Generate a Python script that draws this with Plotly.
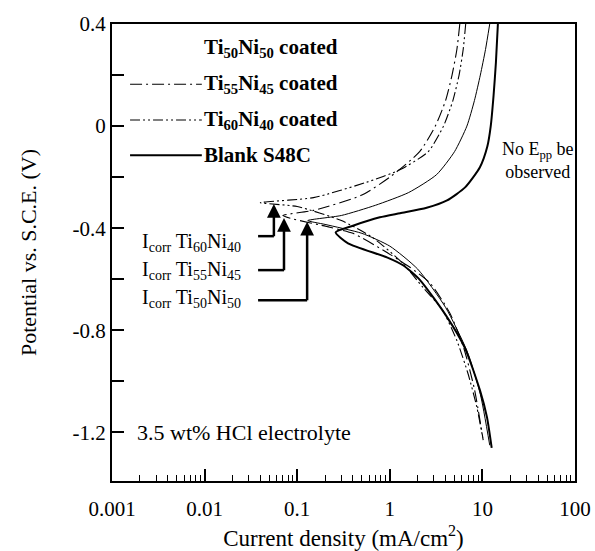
import math
import plotly.graph_objects as go

# ---------------- data ----------------
# Ti60Ni40 coated (dash-dot-dot)
ti60_I = [6.6, 6.2, 5.6, 4.8, 3.8, 2.6, 1.3, 0.56, 0.15, 0.04, 0.1, 0.3, 0.65, 1.38, 2.26, 3.7, 5.3, 7.0, 8.7, 10.2]
ti60_E = [0.40, 0.30, 0.20, 0.10, 0.00, -0.10, -0.17, -0.22, -0.28, -0.30, -0.315, -0.37, -0.436, -0.537, -0.63, -0.72, -0.84, -0.97, -1.10, -1.23]

# Ti55Ni45 coated (dash-dot)
ti55_I = [5.7, 5.3, 4.7, 4.0, 3.1, 2.1, 1.0, 0.5, 0.15, 0.07, 0.084, 0.225, 0.40, 0.85, 1.65, 2.72, 4.46, 6.3, 8.2, 10.1]
ti55_E = [0.40, 0.30, 0.20, 0.10, 0.00, -0.10, -0.20, -0.27, -0.33, -0.35, -0.361, -0.396, -0.42, -0.486, -0.553, -0.615, -0.733, -0.87, -1.03, -1.22]

# Ti50Ni50 coated (thin solid)
ti50_I = [12.0, 10.8, 9.5, 8.2, 6.8, 5.0, 3.2, 1.6, 0.7, 0.3, 0.13, 0.2, 0.5, 1.0, 2.0, 4.0, 6.8, 9.5, 12.0]
ti50_E = [0.40, 0.30, 0.20, 0.10, 0.00, -0.10, -0.19, -0.26, -0.31, -0.35, -0.37, -0.385, -0.42, -0.47, -0.56, -0.71, -0.88, -1.05, -1.25]

# Blank S48C (thick solid)
blank_I = [14.7, 14.0, 13.2, 12.3, 11.3, 9.4, 6.5, 4.15, 2.5, 1.29, 0.78, 0.4, 0.26, 0.354, 0.93, 1.39, 2.12, 4.15, 6.5, 9.4, 11.2, 12.6]
blank_E = [0.40, 0.25, 0.12, 0.00, -0.08, -0.161, -0.24, -0.291, -0.32, -0.341, -0.357, -0.39, -0.416, -0.459, -0.514, -0.545, -0.603, -0.748, -0.87, -1.034, -1.14, -1.26]

series_names = ["Ti<sub>50</sub>Ni<sub>50</sub> coated", "Ti<sub>55</sub>Ni<sub>45</sub> coated",
                "Ti<sub>60</sub>Ni<sub>40</sub> coated", "Blank S48C"]

x_tickvals = [0.001, 0.01, 0.1, 1, 10, 100]
x_ticktext = ["0.001", "0.01", "0.1", "1", "10", "100"]
x_minor = [m * 10.0 ** d for d in range(-3, 2) for m in range(2, 10)]
y_tickvals = [0.4, 0.2, 0.0, -0.2, -0.4, -0.6, -0.8, -1.0, -1.2]
y_ticktext = ["0.4", "", "0", "", "-0.4", "", "-0.8", "", "-1.2"]

# I_corr pointers: arrow x (mA/cm2), tip E, elbow E
icorr_labels = ["I<sub>corr</sub> Ti<sub>60</sub>Ni<sub>40</sub>",
                "I<sub>corr</sub> Ti<sub>55</sub>Ni<sub>45</sub>",
                "I<sub>corr</sub> Ti<sub>50</sub>Ni<sub>50</sub>"]
icorr_x = [0.056, 0.072, 0.128]
icorr_tip = [-0.305, -0.36, -0.375]
icorr_elbow = [-0.431, -0.564, -0.682]
icorr_start = 0.0378
icorr_text_E = [-0.455, -0.564, -0.674]

FONT = "Liberation Serif, Times New Roman, serif"
BLACK = "black"

fig = go.Figure()

styles = [
    dict(color=BLACK, width=1.0, dash="solid"),
    dict(color=BLACK, width=1.1, dash="12px,4px,2px,4px"),
    dict(color=BLACK, width=1.1, dash="10px,3px,2px,3px,2px,3px"),
    dict(color=BLACK, width=2.0, dash="solid"),
]
for xs, ys, st in [(ti50_I, ti50_E, styles[0]), (ti55_I, ti55_E, styles[1]),
                   (ti60_I, ti60_E, styles[2]), (blank_I, blank_E, styles[3])]:
    fig.add_trace(go.Scatter(x=xs, y=ys, mode="lines",
                             line=dict(shape="spline", smoothing=0.6, **st),
                             showlegend=False, hoverinfo="skip"))

# elbow horizontal segments of the I_corr pointers
for xa, ye in zip(icorr_x, icorr_elbow):
    fig.add_trace(go.Scatter(x=[icorr_start, xa], y=[ye, ye], mode="lines",
                             line=dict(color=BLACK, width=2.5), showlegend=False, hoverinfo="skip"))

annotations = []
for lab, xa, yt, ye, yl in zip(icorr_labels, icorr_x, icorr_tip, icorr_elbow, icorr_text_E):
    annotations.append(dict(x=math.log10(xa), y=yt, ax=math.log10(xa), ay=ye - 0.006,
                            xref="x", yref="y", axref="x", ayref="y",
                            showarrow=True, arrowhead=2, arrowsize=1.1, arrowwidth=2.5,
                            arrowcolor=BLACK, text=""))
    annotations.append(dict(x=math.log10(0.026), y=yl, xref="x", yref="y", text=lab,
                            showarrow=False, xanchor="right", yanchor="middle",
                            font=dict(family=FONT, size=20, color=BLACK)))

# legend drawn as sample lines + text
leg_y = [0.948, 0.868, 0.79, 0.713]
leg_x0, leg_x1 = 0.039, 0.194
shapes = []
for i, (nm, st, ly) in enumerate(zip(series_names, styles, leg_y)):
    if i > 0:
        shapes.append(dict(type="line", xref="paper", yref="paper", x0=leg_x0, x1=leg_x1,
                           y0=ly, y1=ly, line=dict(color=st["color"], width=st["width"], dash=st["dash"])))
    annotations.append(dict(x=leg_x1, y=ly, xref="paper", yref="paper", text="<b>" + nm + "</b>",
                            showarrow=False, xanchor="left", yanchor="middle",
                            font=dict(family=FONT, size=21, color=BLACK)))

annotations.append(dict(x=math.log10(40), y=-0.134, xref="x", yref="y",
                        text="No E<sub>pp</sub> be<br>observed", showarrow=False,
                        xanchor="center", yanchor="middle", align="center",
                        font=dict(family=FONT, size=18, color=BLACK)))
annotations.append(dict(x=0.05, y=-1.2, xref="paper", yref="y",
                        text="3.5 wt% HCl electrolyte", showarrow=False,
                        xanchor="left", yanchor="middle",
                        font=dict(family=FONT, size=22, color=BLACK)))

fig.update_layout(
    width=595, height=551,
    margin=dict(l=112, r=20, t=24, b=70),
    plot_bgcolor="white", paper_bgcolor="white",
    font=dict(family=FONT, size=21, color=BLACK),
    annotations=annotations, shapes=shapes,
    showlegend=False,
)
fig.update_xaxes(
    type="log", range=[-3, 2], tickvals=x_tickvals, ticktext=x_ticktext,
    ticks="inside", ticklen=12, tickwidth=1.5, tickcolor=BLACK,
    minor=dict(ticks="inside", ticklen=6, tickwidth=1.2, tickcolor=BLACK, tickvals=x_minor, showgrid=False),
    showline=True, linewidth=2, linecolor=BLACK, mirror=True, showgrid=False, zeroline=False,
    automargin=False, ticklabelstandoff=8,
    title=dict(text="Current density (mA/cm<sup>2</sup>)", font=dict(family=FONT, size=23, color=BLACK), standoff=12),
    tickfont=dict(family=FONT, size=21, color=BLACK),
)
fig.update_yaxes(
    range=[-1.39, 0.4], tickvals=y_tickvals, ticktext=y_ticktext,
    ticks="inside", ticklen=12, tickwidth=1.5, tickcolor=BLACK,
    showline=True, linewidth=2, linecolor=BLACK, mirror=True, showgrid=False, zeroline=False,
    automargin=False,
    title=dict(text="Potential vs. S.C.E. (V)", font=dict(family=FONT, size=22, color=BLACK), standoff=30),
    tickfont=dict(family=FONT, size=21, color=BLACK),
)

fig.write_html("out.html")
